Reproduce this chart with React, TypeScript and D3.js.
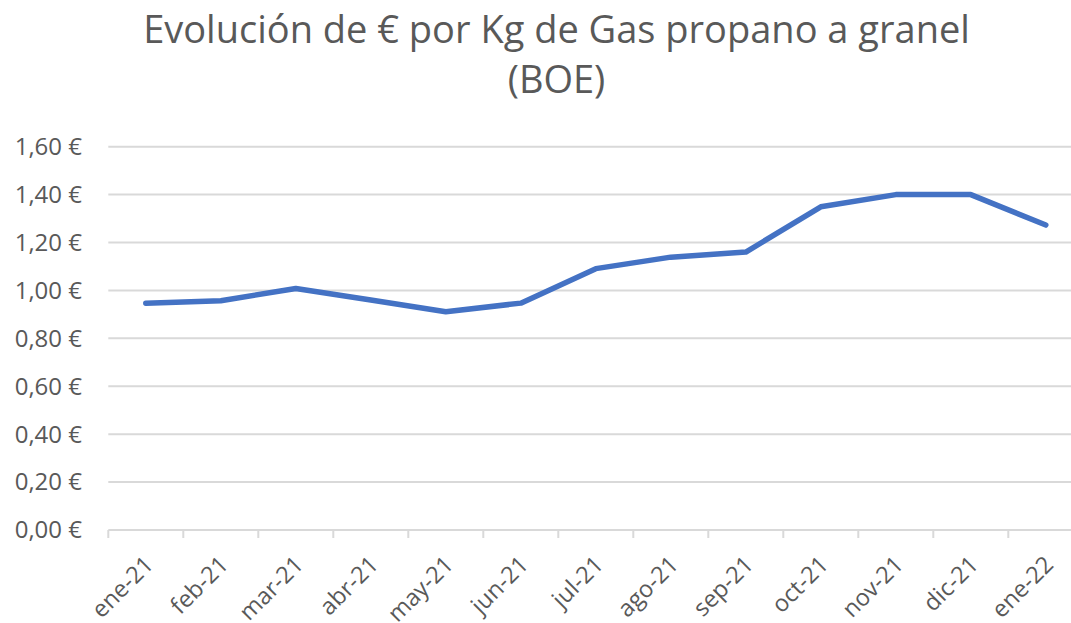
import React from 'react';
import * as d3 from 'd3';

const months = ['ene-21', 'feb-21', 'mar-21', 'abr-21', 'may-21', 'jun-21', 'jul-21', 'ago-21', 'sep-21', 'oct-21', 'nov-21', 'dic-21', 'ene-22'];
const prices = [0.947, 0.957, 1.008, 0.96, 0.911, 0.947, 1.091, 1.139, 1.16, 1.349, 1.4, 1.4, 1.273];
const yTicks = [0, 0.2, 0.4, 0.6, 0.8, 1.0, 1.2, 1.4, 1.6];
const titleLines = ['Evolución de € por Kg de Gas propano a granel', '(BOE)'];

const width = 1071, height = 623;
const font = '"Open Sans", sans-serif';
const textColor = '#595959';
const gridColor = '#d9d9d9';

function App() {
    const x = d3.scaleBand<string>().domain(months).range([108.3, 1083.3]).padding(0);
    const y = d3.scaleLinear().domain([0, 1.6]).range([530, 146.7]);
    const bw = x.bandwidth();

    const fmt = (v: number) => d3.format('.2f')(v).replace('.', ',') + '\u00a0€';

    const line = d3.line<number>()
        .x((_, i) => (x(months[i]) as number) + bw / 2)
        .y(d => y(d));

    // tick marks sit on band boundaries, one more than categories
    const boundaries = months.map(m => x(m) as number).concat([x.range()[1]]);

    return (
        <svg width={width} height={height} style={{ position: 'absolute', left: 0, top: 0, background: '#fff' }}
            fontFamily={font}>
            {titleLines.map((t, i) => (
                <text key={t} x={556.5} y={43 + i * 50} textAnchor="middle" fontSize={38} fill={textColor}>{t}</text>
            ))}

            {yTicks.map(v => (
                <g key={v}>
                    <line x1={x.range()[0]} x2={x.range()[1]} y1={y(v)} y2={y(v)} stroke={gridColor} strokeWidth={2} />
                    <text x={82} y={y(v)} dy="0.35em" textAnchor="end" fontSize={24} fill={textColor}>{fmt(v)}</text>
                </g>
            ))}

            {boundaries.map((b, i) => (
                <line key={i} x1={b} x2={b} y1={y(0)} y2={y(0) + 8} stroke={gridColor} strokeWidth={2} />
            ))}

            {months.map(m => {
                const cx = (x(m) as number) + bw / 2 + 9;
                const cy = y(0) + 36;
                return (
                    <text key={m} x={cx} y={cy} transform={`rotate(-45, ${cx}, ${cy})`} textAnchor="end"
                        fontSize={23.5} fill={textColor}>{m}</text>
                );
            })}

            <path d={line(prices) || ''} fill="none" stroke="#4472c4" strokeWidth={5.5}
                strokeLinecap="round" strokeLinejoin="round" />
        </svg>
    );
}

export default App;
